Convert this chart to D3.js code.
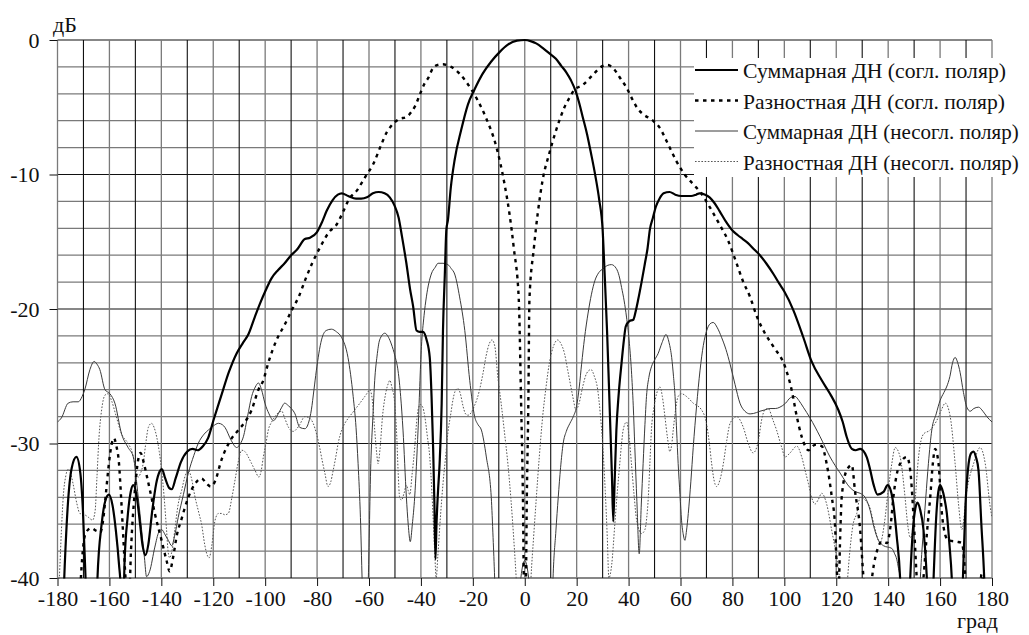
<!DOCTYPE html>
<html>
<head>
<meta charset="utf-8">
<script src="https://cdn.jsdelivr.net/npm/d3@7"></script>
<style>
  body { margin: 0; background: #fff; }
  svg { display: block; }
  text { font-family: "Liberation Serif", "Times New Roman", serif; fill: #111; }
</style>
</head>
<body>
<svg id="chart" width="1029" height="635"></svg>
<script>
// Angle grid and tick labels
const xTicks = [-180, -160, -140, -120, -100, -80, -60, -40, -20, 0, 20, 40, 60, 80, 100, 120, 140, 160, 180];
const xMinor = [-170, -150, -130, -110, -90, -70, -50, -30, -10, 10, 30, 50, 70, 90, 110, 130, 150, 170];
const yTicks = [0, -10, -20, -30, -40];
const yMinor = [-2, -4, -6, -8, -12, -14, -16, -18, -22, -24, -26, -28, -32, -34, -36, -38];
const xUnit = "град";
const yUnit = "дБ";

const legendLabels = [
  "Суммарная ДН (согл. поляр)",
  "Разностная ДН (согл. поляр)",
  "Суммарная ДН (несогл. поляр)",
  "Разностная ДН (несогл. поляр)"
];

// Sum pattern, co-polar (deg, dB)
const sumCoAngles = [-180,-178.2,-177.2,-176,-174.5,-172.7,-171.2,-170.2,-169.2,-168,
  -165.5,-164.6,-163,-161.5,-160.2,-158.8,-157.5,-156.3,-155.6,-155,
  -154.6,-154.2,-153,-151.8,-150.8,-149.6,-148.3,-147.2,-146.1,-145,-143.5,-142,-140.7,-139.8,-138.5,-137,-136,-134.5,-132.5,-130,-128,-126,-124,-122,-119.8,-117,-114,-111,-108.5,-106.5,-104,-102,-100,-97.5,-95,-92.5,-90,-87.8,-84.7,-82.7,-80.1,-78,-76.3,-74,-72,-70.5,-68,-65,-63,-60.8,-58.5,-56.3,-54,-52,-50.2,-48.6,-47.3,-45.6,-44.2,-43,-41.7,-40.5,-39.2,-37.8,-36.6,-35.9,-35.3,-34.8,-34.4,-34.0,-33.4,-32.8,-32,-31.5,-30.8,-30.2,-29.6,-28.5,-27,-24.5,-21.9,-19.4,-16.2,-12.9,-9.7,-6.5,-3,0,2.5,4.4,7,9.5,12,14,16,17.8,19.7,21,22.3,24,25.5,27.2,28.7,30,30.8,31.7,32.4,33,33.6,34.1,34.6,35.3,36.2,37.3,38.2,38.9,40.3,41.8,42.7,43.7,45,46.3,47.3,48.2,49.4,50.5,51.9,53.5,55.8,58,60.3,62,64.1,66,67.3,69.5,71.2,73,75,77.5,80.2,82,84,86,88.5,90.6,93,95.8,98,100,103.5,107.3,110.5,114.4,117.6,120.8,122.5,124,126,127.5,129.2,131.7,133,134.3,135.9,138.2,139.8,141,142,143.3,144.6,145.5,
  147.5,148.5,149.5,150.5,151.3,152.3,153.6,154.9,155.8,
  156.6,157.5,158.5,159.3,160,160.8,161.8,162.6,163.6,164.5,165.5,
  167.8,168.8,169.8,171,172,172.9,173.8,174.8,175.9,177,178,180];
const sumCoDb = [-48,-44,-39,-34.5,-31.8,-31.0,-32.2,-35,-40,-46,
  -46,-40,-36,-34.2,-33.8,-34.6,-36.5,-39,-41,-46,
  -42,-39,-35.5,-33.6,-33.1,-33.8,-35.8,-37.6,-38.3,-37.5,-35,-33,-32.1,-31.9,-32.6,-33.3,-33.4,-32.6,-31.4,-30.6,-30.4,-30.5,-30.2,-29.6,-28.2,-26.5,-24.7,-23.3,-22.5,-21.9,-20.6,-19.6,-18.7,-17.7,-17.1,-16.6,-16.0,-15.6,-14.8,-14.7,-14.3,-13.5,-12.7,-11.9,-11.5,-11.4,-11.6,-11.8,-11.8,-11.7,-11.4,-11.3,-11.4,-11.7,-12.3,-13.2,-14.6,-16.6,-18.5,-19.8,-21.6,-21.7,-21.7,-22.3,-23.6,-26.5,-30.3,-34.5,-38.6,-36,-33.5,-31.5,-27,-21.6,-17.5,-14.1,-13.4,-11,-8.9,-6.7,-4.8,-3.7,-2.5,-1.6,-0.9,-0.35,-0.05,0,-0.1,-0.25,-0.6,-1.0,-1.4,-1.9,-2.4,-3.0,-3.85,-4.7,-5.7,-7,-8.4,-10.1,-11.9,-14.1,-17.5,-21.6,-25.5,-29,-32.5,-35.8,-33,-29,-26.3,-24,-22.3,-21.3,-20.9,-20.8,-20.2,-19.3,-18,-16.6,-15.5,-14.1,-13.2,-12.4,-11.8,-11.4,-11.3,-11.5,-11.6,-11.6,-11.6,-11.5,-11.4,-11.5,-11.7,-12.1,-12.7,-13.5,-14.2,-14.5,-14.8,-15.1,-15.6,-16,-16.6,-17.4,-18.1,-18.7,-20.1,-22.1,-23.9,-25.3,-26.3,-27.5,-28.4,-29.5,-30.4,-30.5,-30.4,-31,-31.9,-33,-33.8,-33.6,-33.1,-33.5,-34.5,-36.9,-40,-45,
  -45,-40,-36.5,-34.8,-34.4,-34.9,-36.4,-40,-45,
  -45,-40,-35.5,-33.6,-33.1,-33.4,-34.2,-35.2,-37.5,-40,-46,
  -46,-40,-34.5,-31.5,-30.7,-30.6,-31,-32,-36,-40,-46,-48];

// Difference pattern, co-polar (deg, dB)
const diffCoAngles = [-180,-172,-171,-170,-169,-167,-165,-163.5,-162.3,-161.5,-160.2,-159.2,-158.3,-157.3,-156.3,-155.5,-154.7,-153.8,-153,-152.5,-151.7,-150.2,-149,-148,-146.8,-145.5,-143.8,-142.5,-139.9,-138,-136.8,-135.5,-134,-132.2,-129.6,-127,-124.5,-122.5,-121,-119.3,-116.8,-113.5,-110.3,-107.8,-105.2,-102.6,-100.7,-98.8,-95.6,-92.3,-89.8,-87.1,-84.5,-81.9,-78.8,-75.5,-72.4,-69.8,-67.9,-64.7,-61.5,-58.3,-55.1,-53,-51.9,-48.6,-45.4,-43.5,-42.2,-40.3,-38.5,-37.1,-35.4,-33.5,-31.5,-29.5,-28.3,-25.1,-22.6,-20,-18.1,-14.9,-11,-7.8,-5.9,-4.2,-2.3,-1.4,-0.7,-0.2,0.3,0.8,1.4,1.8,3.5,5,6.9,9.5,12.1,15.3,17.5,19.1,22.3,26.2,29.4,31.9,33.5,35.3,37,39.1,41.7,43.5,45.5,49.4,51.9,55.1,58.4,61.6,64.8,68,71.2,75,78.3,81.6,84,86.8,89.5,92.5,95.8,100.3,102.8,104.8,106.7,109.3,111.8,114.4,116.3,118.3,119.5,120.4,120.9,121.5,122.1,124,126,127.2,129.2,130.5,131.5,133,134.5,136,137.5,139.5,141,142,143.3,144.6,147.2,148.5,149.7,151,152,153.6,155,156.2,157.2,158.1,159.4,160.7,162,163.2,166.4,168.4,169.2,169.7,170.5,173,175,176,177,180];
const diffCoDb = [-46,-44,-40,-37.5,-36.6,-36.3,-36.5,-36.6,-35.5,-34,-31.5,-30.1,-29.6,-30.2,-31.5,-34,-36.8,-40,-42,-42,-38,-33.5,-31.3,-30.7,-31.4,-32.5,-34,-35.2,-37.2,-38.7,-39.5,-38.5,-36.8,-35.6,-34,-33,-32.6,-33.0,-33.2,-32.8,-31.2,-29.8,-29,-28.4,-27.5,-26.0,-25.3,-24,-22.3,-21.1,-20.1,-19.1,-17.8,-16.6,-15.4,-14.3,-13.7,-12.7,-11.9,-11.2,-10.2,-9.2,-7.7,-6.8,-6.5,-5.9,-5.7,-5.3,-4.9,-4.0,-3.2,-2.8,-2.1,-1.85,-1.8,-1.9,-2.0,-2.5,-3.1,-3.85,-4.5,-5.8,-7.9,-10.7,-12.9,-15.5,-19.3,-27,-34,-42,-42,-34,-26.7,-19.3,-15.5,-12.9,-10.4,-8.4,-6.7,-5.0,-4.2,-3.7,-3.35,-2.6,-2.0,-1.86,-2.0,-2.4,-2.9,-3.5,-4.5,-5.1,-5.5,-6.0,-6.5,-7.7,-9.0,-10.0,-10.7,-11.4,-12.4,-13.7,-14.9,-16.6,-17.9,-19.1,-20.6,-21.8,-22.8,-24.3,-26.0,-28,-29.5,-30.5,-30.1,-30.2,-31.5,-34,-36,-40,-41,-37,-34,-32,-31.6,-33.5,-36.4,-40,-42,-41,-39,-37.8,-37.3,-37.4,-36,-34,-32.3,-31.5,-31,-32,-35.2,-40,-43,-40,-36.5,-34,-31.5,-30.4,-31.5,-35.2,-36.8,-37.2,-37.3,-37.4,-38.5,-40,-43,-45,-42,-39.7,-41,-45];

// Sum pattern, cross-polar (deg, dB)
const sumCrossAngles = [-180,-178.5,-175.9,-174,-172,-170.5,-169.5,-167.5,-165.9,-164.8,-163.7,-161.7,-159.8,-157.9,-155.3,-152.8,-150.8,-148.9,-147.6,-146.5,-145.7,-144.5,-142.5,-141,-139.9,-138.5,-137.3,-136,-134.8,-133.5,-131.5,-129.6,-127.5,-125.8,-123.5,-121.9,-120,-118,-116.5,-115.5,-113,-111,-109.5,-108.4,-106.8,-105.2,-103.8,-102.6,-101.4,-100.1,-98.5,-96.8,-95,-93.6,-92.5,-91,-89.9,-88.5,-86.7,-84.7,-83.2,-82.2,-81.2,-80.3,-78.3,-76.5,-74.5,-72.5,-70.6,-68.1,-66.1,-65,-64.2,-63.3,-62.5,-61.5,-60.4,-59.3,-58.5,-57.8,-56.9,-55.9,-53.9,-52.5,-51.4,-50,-48.8,-47.8,-46.9,-45.6,-44.9,-44.1,-43.3,-42.4,-41.1,-39.8,-38.8,-37.9,-36,-34.5,-33.4,-31.5,-29.6,-28.3,-27,-25.1,-23.1,-21.2,-19.3,-18,-16.7,-14.8,-12.9,-12.2,-11.6,-11,-3,-1.5,-0.7,0,0.7,1.5,3,10.3,10.9,12,12.9,13.8,14.8,16,17.4,18.7,19.9,21,21.9,23,24.4,25.7,27,28.5,30.2,32,33.4,35.3,36.3,37.3,38.3,39.2,40.2,41.1,41.8,42.4,43.2,44.1,44.9,45.6,46.3,46.9,47.8,48.8,50,51.4,52.9,54.4,55.6,56.6,57.3,57.9,58.5,59.1,59.8,60.4,61.1,61.7,62.3,63,64,64.9,66.2,67.5,68.8,70.1,71.4,72.6,74.2,75.8,77.5,79.1,81,82.9,84.8,86.8,89.3,90.6,92.5,94.5,96.5,98.3,100.5,102.3,104.1,105.6,107.3,109.9,113.8,117.6,121.5,125.4,127.5,129.2,131.1,133.1,134.5,135.6,138.2,141.4,142.5,143.3,144,144.6,145.5,151.5,153,154.5,155.5,156.8,158.5,160,161.5,162.5,163.8,164.8,165.8,166.8,167.7,169,170.3,171.6,173,174.8,176.5,178,180];
const sumCrossDb = [-28.4,-28.1,-27.0,-26.9,-26.9,-26.5,-26.0,-24.5,-23.9,-24.1,-24.5,-26,-26.3,-27,-29.3,-30.3,-31,-34,-36.4,-38.5,-39.9,-39.5,-37.7,-36.6,-36.4,-36.8,-37.2,-37.6,-36.8,-35.5,-33.8,-32.2,-30.9,-30,-29.3,-29,-28.7,-28.5,-28.6,-28.8,-29.8,-30.3,-30,-29.5,-28,-26.5,-25.8,-25.5,-26,-27,-27.8,-28.3,-27.8,-27.3,-27.0,-27.2,-27.4,-27.8,-28.8,-28.9,-28.4,-27.5,-26,-24.6,-22.3,-21.6,-21.5,-21.7,-22.1,-23.6,-26.5,-28.8,-31.5,-35.5,-41,-44,-41,-31.5,-28,-25.3,-23.5,-22.3,-21.8,-22.1,-22.6,-23.5,-24.6,-26.5,-29.0,-34,-36,-37.3,-36,-34,-29,-22.8,-20.5,-19.1,-17.4,-16.9,-16.6,-16.6,-16.7,-17,-17.4,-19.1,-21.6,-25.3,-28,-28.6,-29,-31,-34,-37,-40,-44,-44,-40,-39,-38.7,-39,-40,-44,-44,-40,-36.5,-34,-31.8,-30,-29.1,-28.5,-28,-27.3,-25.8,-24.1,-22.2,-20.3,-18.9,-17.9,-17.3,-17.0,-16.75,-16.7,-17.0,-17.5,-18.4,-19.4,-20.6,-22.3,-24.6,-27.2,-30.3,-34.3,-38.2,-34.5,-31.5,-28.6,-26.5,-25.1,-24.3,-23.8,-23.3,-22.5,-21.9,-22.5,-23.6,-25,-26.5,-29,-31.5,-33.8,-35.7,-36.8,-37.2,-36.5,-35.2,-32.8,-30.3,-27.2,-24.6,-22.7,-21.6,-21.1,-21.0,-21.4,-22.1,-23,-24.1,-25.6,-27,-27.6,-27.8,-27.7,-27.6,-27.5,-27.4,-27.4,-27.3,-27,-26.6,-26.5,-26.8,-27.3,-28.1,-29.5,-31,-32.2,-33.3,-33.6,-33.7,-34,-35,-36.2,-36.9,-37.6,-37.8,-38.2,-38.6,-39.3,-39.9,-42,-42,-38,-34,-31.5,-29,-27.8,-26.8,-26.2,-25.8,-25,-24,-23.6,-24,-24.7,-26.2,-27.3,-27.6,-27.4,-27.3,-27.6,-28,-28.4];

// Difference pattern, cross-polar (deg, dB)
const diffCrossAngles = [-180,-179.3,-178.5,-177.8,-176.8,-175.9,-174.8,-174,-172.5,-171.4,-169.5,-168,-166.5,-165.5,-164.8,-164,-163,-161.7,-160.5,-159.2,-157.5,-155.3,-152.8,-151.3,-150.2,-148.9,-148,-147,-146,-145,-143.8,-142.8,-141.8,-140.8,-139.9,-139,-138,-137.4,-136.8,-135.5,-134.8,-133.5,-132.2,-130.8,-129.6,-128.5,-127,-125.5,-124.5,-123.3,-122.5,-121.6,-120.5,-119.3,-118,-116.8,-115.5,-114.2,-112.8,-111.6,-110.3,-109,-107.8,-106.5,-105.2,-103.9,-102.4,-101.5,-100.7,-99.7,-98.8,-97.5,-96.2,-94.9,-93.6,-92.5,-91,-89.2,-87,-84.7,-83,-81.5,-80.2,-79,-78,-77,-75.8,-74.8,-73.8,-72.8,-71.9,-70.5,-69.3,-67.5,-65.5,-63.5,-61.6,-60.5,-59.7,-58.7,-57.8,-57,-56.5,-55.8,-54.8,-53.5,-52.5,-52,-51.2,-50.1,-49.3,-48.8,-48.2,-47.5,-46.5,-45.6,-44.9,-44.3,-43.4,-42.4,-41.7,-41.1,-40.2,-39.3,-38.5,-37.5,-36.6,-35.8,-35.3,-34.7,-34.1,-33.5,-32.5,-31.5,-30.5,-29.6,-28.5,-27.7,-26.8,-25.8,-24.8,-23.8,-22.8,-21.9,-20.6,-19.4,-18.4,-17.4,-16.1,-14.9,-13.7,-12.6,-11.5,-10.4,-9.1,-7.8,-6.5,-5.3,-4.2,-3.3,-2.5,0,1.7,2.4,3.4,4.4,5.6,6.9,8.2,9.5,11,12.7,14,15.3,16.5,17.8,18.8,19.7,20.8,22.3,23.8,25.5,26.8,28.1,29.1,30,31,31.8,32.4,33.5,34.7,35.7,36.6,37.3,37.9,39.2,40.2,41.1,42.1,43.1,45,46.3,47,47.6,48.2,48.8,49.8,50.8,52.1,53,54,55,55.9,56.6,57.2,58.1,59.1,60.4,62.3,64.9,68.1,70,71,72,73,73.9,75.2,76.5,77.8,79.1,81.6,84.2,86.1,88,90,91.2,92.5,93.8,95.5,97,99,100.3,102.2,104.8,106.7,108,109.3,110.5,111.8,113,114.4,116.3,118.3,120.2,122,123.2,124,125,126.5,127.9,129.2,131.1,133,134.5,136.9,138.5,140,141.4,142.7,144.6,146.5,147.5,148.5,149.5,150.5,151.7,153.6,156.2,158.7,160.5,162,163.9,165.8,167.1,168.4,170.3,172.9,175.4,177.4,179.3,180];
const diffCrossDb = [-42,-40,-36.5,-34,-32.4,-31.9,-32.3,-33,-34.5,-35.2,-35.3,-35.5,-35.7,-35,-32.5,-29.5,-27.5,-26.4,-26.3,-26.8,-27.9,-29.3,-30,-30.6,-31.5,-32.5,-32.2,-31.5,-30,-28.8,-28.5,-28.8,-29.5,-30.6,-32,-33.8,-36.4,-38,-38.5,-37.5,-36.4,-34.5,-33.5,-32.4,-32,-32.5,-34,-35.2,-36,-37.5,-38.2,-38.5,-37.5,-35.7,-35.2,-35.2,-35.3,-35.2,-34,-32.7,-31.3,-30.5,-30.6,-31,-31.5,-32,-32.5,-32,-31,-30,-29,-28.4,-28,-27.7,-27.6,-28.1,-28.8,-29.1,-28.7,-28,-28.1,-28.5,-29.3,-30.3,-31.3,-32.2,-33.2,-32.9,-32,-31,-30,-29,-28.5,-28,-27.5,-27,-26.5,-26.2,-26,-26.8,-29,-30.8,-31.5,-30.5,-28,-26.2,-25.5,-25.3,-25.8,-27,-29.5,-32,-34,-34.2,-33.7,-33.1,-33.5,-33.8,-32.3,-30.3,-28.5,-27.5,-27.1,-27.3,-28,-29.5,-31,-33.5,-35.5,-38,-40,-38.4,-35.5,-33,-31,-29.2,-27.8,-26.8,-26.1,-25.9,-26.3,-27.2,-27.8,-27.9,-27.7,-27.2,-26.7,-26,-24.8,-23.5,-22.6,-22.3,-22.8,-25,-27,-29.2,-31.5,-34.2,-37.2,-40,-43,-48,-43,-40,-37,-34.2,-31,-28,-25.8,-24,-22.8,-22.3,-22.6,-23.3,-24.5,-25.8,-26.8,-27.5,-27.1,-25.8,-24.8,-24.5,-25,-26,-27.8,-30,-33.5,-37,-40,-39,-36,-33.5,-31.5,-30,-29,-28.4,-29.5,-31.5,-33.8,-35.7,-36.7,-36.4,-35.5,-34,-31.5,-29,-27.3,-26.3,-25.8,-26.5,-28,-29.6,-30.6,-30.1,-29,-27.5,-26.5,-26.3,-26.5,-27,-27.5,-28.5,-29.8,-31.5,-32.8,-33.2,-32.7,-31.5,-29.8,-28.5,-28,-28.8,-30,-30.7,-29.8,-28.3,-27.5,-27.4,-28.2,-29,-30.3,-31,-30.7,-30.2,-31,-32,-33,-34,-34.5,-34.2,-33.7,-34.5,-36.5,-38.5,-41,-43,-41,-38.5,-36,-35.2,-34,-34.2,-34.8,-36,-37.4,-36,-33.5,-31.5,-30.3,-31,-34,-36,-37,-36.5,-34,-31,-29.3,-29,-28.3,-27.5,-27,-28,-31.5,-34.5,-36.4,-33.5,-31.5,-30.3,-31.5,-34.7,-35.5];

const series = [
  { label: legendLabels[0], angles: sumCoAngles,    db: sumCoDb,    color: "#000", width: 2.2, dash: null },
  { label: legendLabels[1], angles: diffCoAngles,   db: diffCoDb,   color: "#000", width: 2.4, dash: "3.5,4.5" },
  { label: legendLabels[2], angles: sumCrossAngles, db: sumCrossDb, color: "#3a3a3a", width: 1, dash: null },
  { label: legendLabels[3], angles: diffCrossAngles,db: diffCrossDb,color: "#555", width: 1, dash: "1.6,1.6" }
];

const svg = d3.select("#chart");
const x = d3.scaleLinear().domain([-180, 180]).range([57.5, 992]);
const y = d3.scaleLinear().domain([-40, 0]).range([578, 40]);
const serif = '"Liberation Serif", "Times New Roman", serif';
const plain = d => String(d);   // hyphen-minus, as printed on the axes

// grid
const grid = svg.append("g");
grid.selectAll(".hm").data(yMinor).join("line")
  .attr("x1", x(-180)).attr("x2", x(180))
  .attr("y1", d => y(d)).attr("y2", d => y(d))
  .attr("stroke", "#7a7a7a").attr("stroke-width", 1.3);
grid.selectAll(".hM").data(yTicks).join("line")
  .attr("x1", x(-180)).attr("x2", x(180))
  .attr("y1", d => y(d)).attr("y2", d => y(d))
  .attr("stroke", "#111").attr("stroke-width", 1.1);
grid.selectAll(".vm").data(xMinor).join("line")
  .attr("x1", d => x(d)).attr("x2", d => x(d))
  .attr("y1", y(0)).attr("y2", y(-40))
  .attr("stroke", "#111").attr("stroke-width", 1.1);
grid.selectAll(".vM").data(xTicks).join("line")
  .attr("x1", d => x(d)).attr("x2", d => x(d))
  .attr("y1", y(0)).attr("y2", y(-40))
  .attr("stroke", "#7a7a7a").attr("stroke-width", 1.3);

// axes
const xAxis = d3.axisBottom(x).tickValues(xTicks).tickSize(8).tickPadding(4).tickFormat(plain);
const gx = svg.append("g").attr("transform", `translate(0,${y(-40)})`).call(xAxis)
  .attr("font-family", serif).attr("font-size", 22);
gx.select(".domain").remove();
gx.selectAll(".tick line").attr("stroke", "#111");
gx.selectAll(".tick text").attr("fill", "#111").attr("dy", "0.72em");

const yAxis = d3.axisLeft(y).tickValues(yTicks).tickSize(8).tickPadding(10).tickFormat(plain);
const gy = svg.append("g").attr("transform", `translate(${x(-180)},0)`).call(yAxis)
  .attr("font-family", serif).attr("font-size", 22);
gy.select(".domain").remove();
gy.selectAll(".tick line").attr("stroke", "#111");
gy.selectAll(".tick text").attr("fill", "#111");

svg.append("text").attr("x", 53).attr("y", 32).attr("font-size", 22).text(yUnit);
svg.append("text").attr("x", 998).attr("y", 628).attr("text-anchor", "end").attr("font-size", 22).text(xUnit);

// curves
svg.append("clipPath").attr("id", "plot").append("rect")
  .attr("x", x(-180)).attr("y", y(0) - 2).attr("width", x(180) - x(-180)).attr("height", y(-40) - y(0) + 2.5);

const line = d3.line().x(d => x(d[0])).y(d => y(d[1])).curve(d3.curveMonotoneX);
const curves = svg.append("g").attr("clip-path", "url(#plot)");
series.slice().reverse().forEach(s => {
  curves.append("path")
    .datum(d3.zip(s.angles, s.db))
    .attr("d", line)
    .attr("fill", "none")
    .attr("stroke", s.color)
    .attr("stroke-width", s.width)
    .attr("stroke-dasharray", s.dash)
    .attr("stroke-linejoin", "round");
});

// legend
const lg = svg.append("g");
lg.append("rect").attr("x", 694).attr("y", 58).attr("width", 335).attr("height", 119).attr("fill", "#fff");
const rowY = [70, 100.5, 131, 161.5];
const rowWidth = [263, 262, null, null];
series.forEach((s, i) => {
  lg.append("line").attr("x1", 695).attr("x2", 738).attr("y1", rowY[i]).attr("y2", rowY[i])
    .attr("stroke", s.color).attr("stroke-width", s.width).attr("stroke-dasharray", s.dash);
  const t = lg.append("text").attr("x", 743).attr("y", rowY[i] + 8).attr("font-size", 21)
    .text(s.label);
  if (rowWidth[i]) t.attr("textLength", rowWidth[i]).attr("lengthAdjust", "spacingAndGlyphs");
});
</script>
</body>
</html>
